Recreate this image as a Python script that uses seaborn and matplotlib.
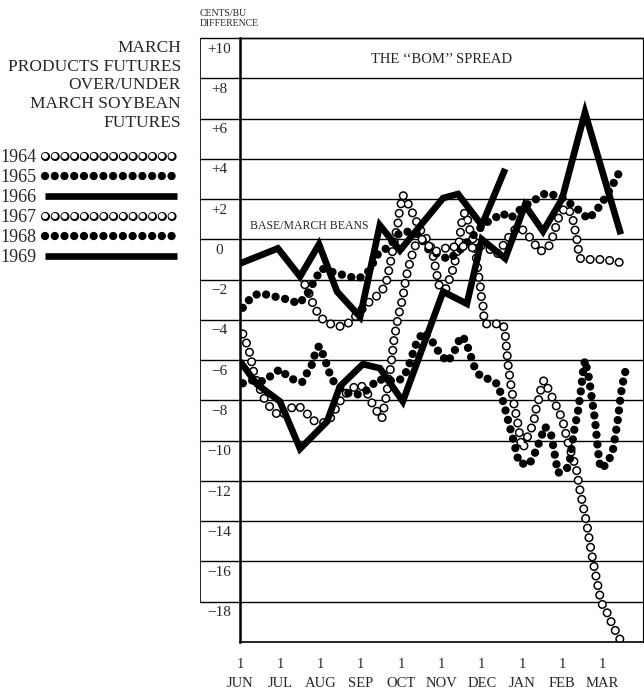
import matplotlib
matplotlib.use("Agg")
import matplotlib.pyplot as plt
import seaborn as sns
from matplotlib.legend_handler import HandlerTuple

# x = months after June 1, y = cents/bu of March products over/under March beans
# 1964 (open circles, begins mid-August)
x_1964 = [1.61, 1.74, 1.81, 1.94, 2.11, 2.31, 2.56, 2.73, 2.88, 3.10, 3.30, 3.47, 3.62,
          3.67, 3.72, 3.77, 3.82, 3.87, 3.92, 3.95, 4.00, 4.04, 4.14, 4.22, 4.32, 4.42,
          4.52, 4.64, 4.76, 4.81, 4.86, 4.91, 4.96, 5.11, 5.21, 5.29, 5.36, 5.41, 5.46,
          5.48, 5.53, 5.58, 5.66, 5.71, 5.78, 5.83, 5.88, 5.91, 5.96, 5.98, 6.03, 6.05,
          6.08, 6.30, 6.53, 6.58, 6.65, 6.72, 6.80, 6.90, 6.97, 7.02, 7.10, 7.22, 7.30,
          7.35, 7.42, 7.47, 7.54, 7.64, 7.77, 7.89, 7.99, 8.06, 8.11, 8.19, 8.26, 8.34,
          8.41, 8.51, 8.61, 8.69, 8.78, 8.88, 8.96, 9.05, 9.13, 9.23, 9.33, 9.45]
y_1964 = [-2.25, -2.8, -3.2, -3.7, -4.1, -4.25, -4.35, -4.1, -3.8, -3.3, -2.95, -2.7, -2.25,
          -1.75, -1.3, -0.75, -0.2, 0.3, 0.8, 1.3, 1.8, 2.2, 1.9, 1.55, 1.15, 0.7,
          0.3, 0.0, -0.5, -1.0, -1.5, -2.0, -2.45, -2.45, -1.9, -1.45, -0.9, -0.4, 0.1,
          0.6, 1.1, 1.35, 0.9, 0.4, 0.0, -0.5, -1.1, -1.7, -2.25, -2.75, -3.3, -3.8,
          -4.2, -4.2, -4.2, -4.7, -6.2, -7.2, -8.2, -9.2, -10.1, -10.4, -9.95, -9.45, -8.95,
          -8.4, -7.9, -7.4, -7.0, -7.4, -7.95, -8.45, -8.9, -9.4, -9.9, -10.4, -10.9, -11.3,
          -12.2, -13.2, -14.2, -15.2, -16.2, -17.2, -18.0, -18.4, -18.6, -19.1, -19.5, -19.95]

# 1965 (filled circles)
x_1965 = [0.07, 0.27, 0.45, 0.69, 0.97, 1.22, 1.46, 1.64, 1.89, 2.03, 2.26, 2.70, 2.95,
          3.18, 3.42, 3.70, 3.95, 4.22, 4.42, 4.71, 4.96, 5.16, 5.38, 5.66, 5.88, 6.08,
          6.28, 6.50, 6.72, 6.90, 7.10, 7.35, 7.59, 7.79, 8.01, 8.24, 8.44, 8.64, 8.83,
          9.01, 9.13, 9.33, 9.45]
y_1965 = [-3.4, -2.9, -2.7, -2.75, -2.9, -3.0, -3.2, -2.8, -1.9, -1.45, -1.6, -1.85, -1.95,
          -1.6, -0.75, -0.35, 0.3, 0.4, 0.25, -0.6, -0.75, -1.0, -0.7, -0.1, 0.4, 0.8,
          1.0, 1.3, 1.05, 1.4, 1.7, 2.0, 2.3, 2.2, 2.05, 1.7, 1.4, 1.0, 1.4,
          1.9, 2.3, 3.0, 3.5]

# 1966 (heavy line, ends mid-December)
x_1966 = [0.00, 0.94, 1.49, 1.96, 2.41, 2.98, 3.47, 3.97, 5.04, 5.41, 6.00, 6.58]
y_1966 = [-1.2, -0.45, -1.85, -0.25, -2.6, -3.85, 0.7, -0.55, 2.05, 2.25, 0.7, 3.5]

# 1967 (open circles)
x_1967 = [0.07, 0.17, 0.25, 0.30, 0.35, 0.45, 0.62, 0.79, 0.99, 1.24, 1.44, 1.66, 1.81,
          2.03, 2.18, 2.31, 2.43, 2.56, 2.73, 2.98, 3.15, 3.28, 3.40, 3.52, 3.62, 3.75,
          3.82, 3.92, 4.04, 4.12, 4.24, 4.37, 4.52, 4.67, 4.81, 5.01, 5.21, 5.41, 5.61,
          5.81, 6.00, 6.20, 6.38, 6.63, 6.80, 6.95, 7.15, 7.30, 7.44, 7.64, 7.74, 7.82,
          7.89, 7.99, 8.11, 8.24, 8.31, 8.36, 8.39, 8.44, 8.69, 8.93, 9.18, 9.43]
y_1967 = [-4.7, -5.2, -5.7, -6.2, -6.7, -7.2, -8.0, -8.45, -8.8, -8.4, -8.25, -8.65, -9.0,
          -9.1, -9.1, -8.65, -8.2, -7.8, -7.45, -7.2, -7.6, -8.15, -8.55, -8.9, -7.9, -6.2,
          -5.0, -3.9, -2.9, -1.9, -0.95, -0.2, 0.0, -0.3, -0.6, -0.55, -0.3, -0.45, -0.3,
          -0.45, -0.3, -0.5, -0.75, 0.0, 0.45, 0.6, 0.2, -0.2, -0.6, -0.45, 0.0, 0.5,
          1.0, 1.4, 1.6, 1.2, 0.5, 0.0, -0.45, -0.95, -1.0, -1.0, -1.05, -1.15]

# 1968 (filled circles)
x_1968 = [0.07, 0.32, 0.57, 0.79, 0.99, 1.24, 1.54, 1.66, 1.79, 1.86, 1.96, 2.08, 2.23,
          2.36, 2.73, 2.98, 3.18, 3.42, 3.62, 3.87, 4.04, 4.17, 4.24, 4.37, 4.54, 4.74,
          4.86, 5.14, 5.29, 5.43, 5.53, 5.66, 5.81, 5.96, 6.18, 6.40, 6.55, 6.68, 6.80,
          6.92, 7.17, 7.30, 7.42, 7.57, 7.72, 7.82, 7.89, 8.11, 8.19, 8.29, 8.39, 8.46,
          8.51, 8.56, 8.66, 8.73, 8.81, 8.86, 8.91, 8.96, 9.13, 9.26, 9.38, 9.45, 9.53, 9.60]
y_1968 = [-7.15, -7.0, -7.05, -6.75, -6.45, -6.9, -7.1, -6.65, -6.2, -5.7, -5.3, -5.8, -6.7,
          -7.2, -7.7, -7.7, -7.45, -6.95, -7.0, -7.05, -6.9, -6.4, -5.95, -5.2, -4.6, -4.95,
          -5.4, -6.1, -5.7, -5.05, -4.8, -5.4, -6.3, -6.8, -6.95, -7.2, -8.2, -9.2, -10.1,
          -11.1, -11.2, -10.7, -10.1, -9.3, -9.7, -10.8, -11.6, -11.4, -10.9, -9.5, -8.5, -7.5,
          -6.6, -6.0, -6.9, -7.9, -9.0, -10.0, -11.0, -11.4, -11.1, -10.4, -8.9, -7.7, -6.8, -6.3]

# 1969 (heavy line)
x_1969 = [0.00, 0.42, 0.99, 1.49, 2.16, 2.48, 3.05, 3.47, 4.04, 5.04, 5.63, 6.00, 6.58,
          7.07, 7.52, 7.99, 8.56, 9.45]
y_1969 = [-6.05, -7.2, -8.05, -10.4, -9.05, -7.3, -6.2, -6.4, -8.05, -2.6, -3.2, 0.0, -0.95,
          1.7, 0.4, 2.0, 6.3, 0.25]

years = ["1964", "1965", "1966", "1967", "1968", "1969"]
months = ["JUN", "JUL", "AUG", "SEP", "OCT", "NOV", "DEC", "JAN", "FEB", "MAR"]
y_levels = [10, 8, 6, 4, 2, 0, -2, -4, -6, -8, -10, -12, -14, -16, -18]
y_labels = ["+10", "+8", "+6", "+4", "+2", "0", "\u22122", "\u22124", "\u22126", "\u22128",
            "\u221210", "\u221212", "\u221214", "\u221216", "\u221218"]

sns.set_style("white")
plt.rcParams["font.family"] = ["Liberation Serif", "DejaVu Serif"]
plt.rcParams["lines.scale_dashes"] = False

fig = plt.figure(figsize=(6.44, 6.97), dpi=100)
ax = fig.add_axes([240 / 644, 1 - 642 / 697, 403 / 644, 604 / 697])

DOTS = (0, (0.01, 7.0))


def filled_dots(x, y):
    sns.lineplot(x=x, y=y, ax=ax, sort=False, estimator=None, legend=False,
                 color="black", lw=6.0, linestyle=DOTS, dash_capstyle="round")
    return ax.lines[-1]


def open_dots(x, y):
    sns.lineplot(x=x, y=y, ax=ax, sort=False, estimator=None, legend=False,
                 color="black", lw=6.6, linestyle=DOTS, dash_capstyle="round")
    outer = ax.lines[-1]
    sns.lineplot(x=x, y=y, ax=ax, sort=False, estimator=None, legend=False,
                 color="white", lw=4.4, linestyle=DOTS, dash_capstyle="round")
    return (outer, ax.lines[-1])


def heavy(x, y):
    sns.lineplot(x=x, y=y, ax=ax, sort=False, estimator=None, legend=False,
                 color="black", lw=4.8, solid_joinstyle="miter", solid_capstyle="butt")
    return ax.lines[-1]


h64 = open_dots(x_1964, y_1964)
h65 = filled_dots(x_1965, y_1965)
h66 = heavy(x_1966, y_1966)
h67 = open_dots(x_1967, y_1967)
h68 = filled_dots(x_1968, y_1968)
h69 = heavy(x_1969, y_1969)

ax.set_xlim(0, 10)
ax.set_ylim(-20, 10)

# horizontal rules, extended left over the boxed label column
for v in y_levels:
    ax.axhline(v, xmin=-0.0993, xmax=1, color="black", lw=1.0, clip_on=False, zorder=0)
ax.plot([-0.0993, -0.0993], [0.067, 1], transform=ax.transAxes, color="black",
        lw=0.6, clip_on=False)
for v, lab in zip(y_levels, y_labels):
    ax.text(-0.052, v - 0.55, lab, transform=ax.get_yaxis_transform(), ha="center",
            va="center", fontsize=11)

ax.set_yticks([])
ax.set_xticks(range(10))
ax.set_xticklabels(["1\n" + m for m in months], fontsize=10.5, linespacing=1.65)
ax.set_xticks([i + 0.5 for i in range(10)], minor=True)
ax.tick_params(axis="x", which="major", direction="inout", length=11, width=1.1,
               pad=6, color="black")
ax.tick_params(axis="x", which="minor", direction="inout", length=6, width=1.0,
               color="black")
for side, w in [("left", 1.8), ("bottom", 1.2), ("right", 0.8), ("top", 1.0)]:
    ax.spines[side].set_visible(True)
    ax.spines[side].set_color("black")
    ax.spines[side].set_linewidth(w)

ax.text(0.5, 0.965, "THE \u2018\u2018BOM\u2019\u2019 SPREAD", transform=ax.transAxes,
        ha="center", va="center", fontsize=10.5)
ax.text(0.025, 0.35, "BASE/MARCH BEANS", transform=ax.get_yaxis_transform(),
        ha="left", va="bottom", fontsize=8.5)

fig.text(200 / 644, 1 - 9 / 697, "CENTS/BU\nDIFFERENCE", ha="left", va="top",
         fontsize=7, linespacing=1.2)
fig.text(181 / 644, 1 - 40 / 697,
         "MARCH\nPRODUCTS FUTURES\nOVER/UNDER\nMARCH SOYBEAN\nFUTURES",
         ha="right", va="top", multialignment="right", fontsize=12.5, linespacing=1.22)

fig.legend([h64, h65, h66, h67, h68, h69], years, loc="upper left",
           bbox_to_anchor=(0.0, 1 - 149 / 697), frameon=False, markerfirst=False,
           fontsize=13, handlelength=7.3, handletextpad=0.5, labelspacing=0.17,
           borderpad=0, borderaxespad=0, handler_map={tuple: HandlerTuple(ndivide=1)})

fig.savefig("out.png", dpi=100)
